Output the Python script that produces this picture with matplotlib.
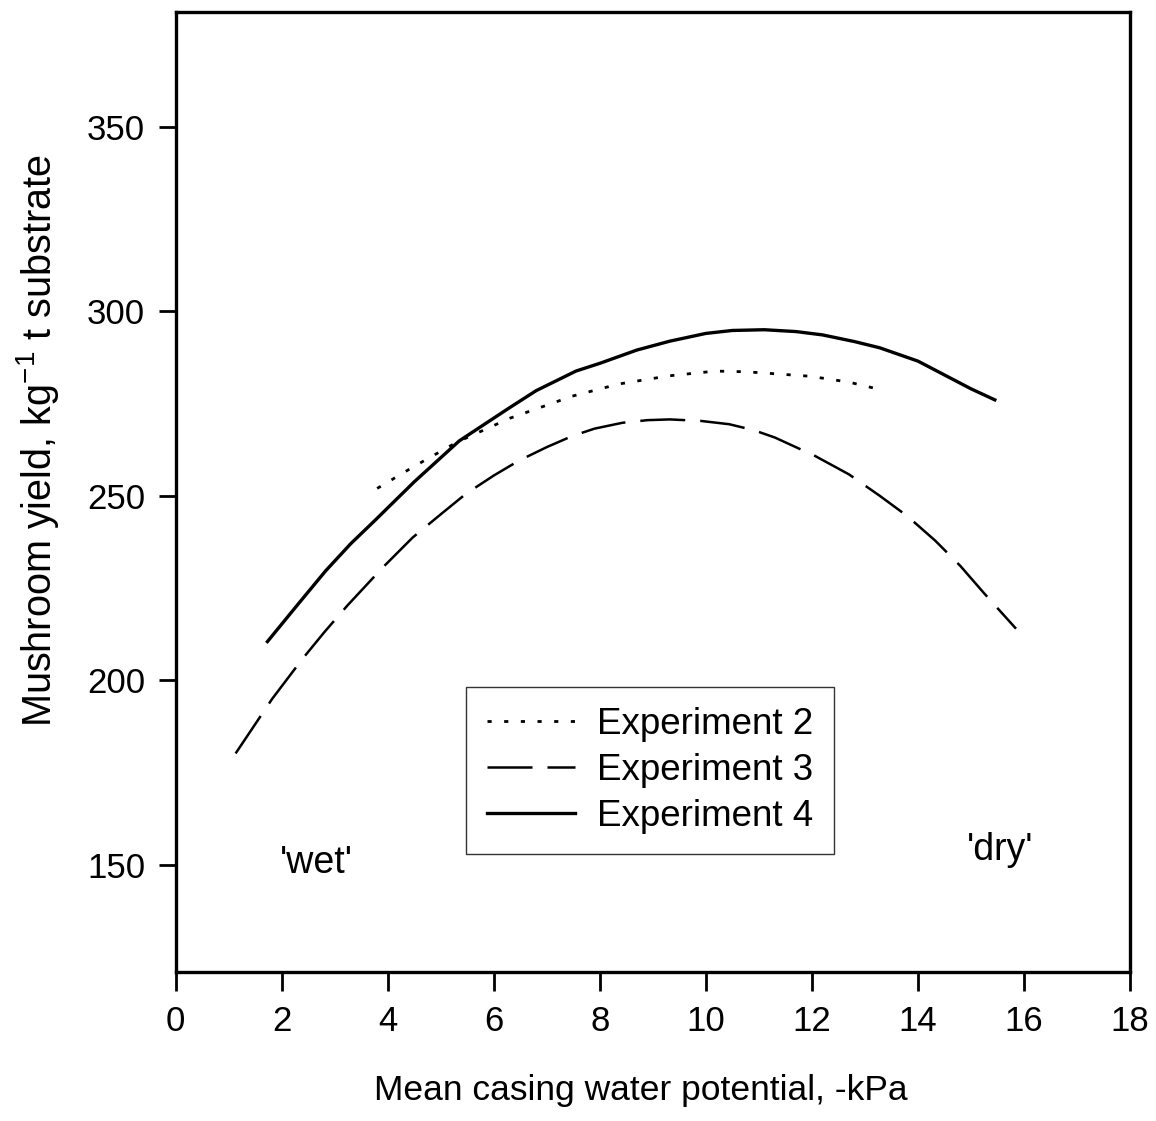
import numpy as np
import matplotlib
matplotlib.use("Agg")
import matplotlib.pyplot as plt

plt.rcParams['font.family'] = ['Liberation Sans', 'DejaVu Sans']

# values
exp2_x = [3.8, 4.5, 5.3, 6.3, 7.48, 8.36, 9.3, 10.18, 10.77, 11.96, 12.7, 13.28]
exp2_y = [252, 258, 264.5, 271, 277, 280.3, 282.5, 283.8, 283.6, 282.4, 280.8, 278.8]

exp3_x = [1.13, 1.82, 2.39, 2.8, 3.24, 3.9, 4.47, 5.0, 5.47, 6.0, 6.47, 7.0, 7.48, 7.9, 8.43,
          8.9, 9.32, 9.9, 10.44, 10.9, 11.3, 12.06, 12.7, 13.28, 13.8, 14.33, 14.8, 15.26, 15.85]
exp3_y = [180.2, 195, 205.8, 213, 220.3, 230.5, 238.7, 245, 250.5, 255.5, 259.5, 263.2, 266.2, 268.2, 269.8,
          270.5, 270.7, 270.3, 269.4, 267.8, 265.8, 260.8, 255.8, 250, 244.5, 237.8, 231, 223.4, 214]

exp4_x = [1.73, 2.3, 2.83, 3.3, 3.77, 4.5, 5.35, 6.29, 6.8, 7.55, 8.0, 8.7, 9.32, 10.0, 10.5,
          11.1, 11.7, 12.2, 12.8, 13.28, 14.0, 14.6, 15.0, 15.45]
exp4_y = [210.5, 220.5, 229.7, 237, 243.5, 253.8, 264.9, 273.8, 278.5, 283.8, 285.9, 289.5, 291.9, 294.0, 294.8,
          295, 294.5, 293.6, 291.8, 290.1, 286.5, 282, 279.0, 276]

x_ticks = [0, 2, 4, 6, 8, 10, 12, 14, 16, 18]
y_ticks = [150, 200, 250, 300, 350]

fig = plt.figure(figsize=(11.56, 11.21), dpi=100)
ax = fig.add_axes([0.152, 0.133, 0.8255, 0.856])

ax.plot(exp2_x, exp2_y, color='black', lw=2.0, dashes=(1.5, 4.5), label='Experiment 2')
ax.plot(exp3_x, exp3_y, color='black', lw=1.8, dashes=(18, 6), label='Experiment 3')
ax.plot(exp4_x, exp4_y, color='black', lw=2.4, label='Experiment 4')

ax.set_xlim(0, 18)
ax.set_ylim(121, 381)
ax.set_xticks(x_ticks)
ax.set_yticks(y_ticks)
ax.tick_params(direction='out', length=14, width=2, labelsize=25, pad=10)
ax.tick_params(axis='y', length=12)
for s in ax.spines.values():
    s.set_linewidth(2.4)

ax.set_xlabel('Mean casing water potential, -kPa', fontsize=25.5)
ax.set_ylabel('Mushroom yield, kg$^{\\mathregular{-1}}$ t substrate', fontsize=28.5)
ax.xaxis.set_label_coords(0.487, -0.106)
ax.yaxis.set_label_coords(-0.12, 0.554)

ax.text(2.65, 150.6, "'wet'", fontsize=27, ha='center', va='center')
ax.text(15.55, 154, "'dry'", fontsize=27, ha='center', va='center')

leg = ax.legend(loc='center', bbox_to_anchor=(0.497, 0.21), fontsize=26.5, frameon=True,
                fancybox=False, edgecolor='black', handlelength=2.4, borderpad=0.55,
                labelspacing=0.3, handletextpad=0.6, borderaxespad=0)
leg.get_frame().set_linewidth(1.0)

fig.savefig('out.png', dpi=100)
